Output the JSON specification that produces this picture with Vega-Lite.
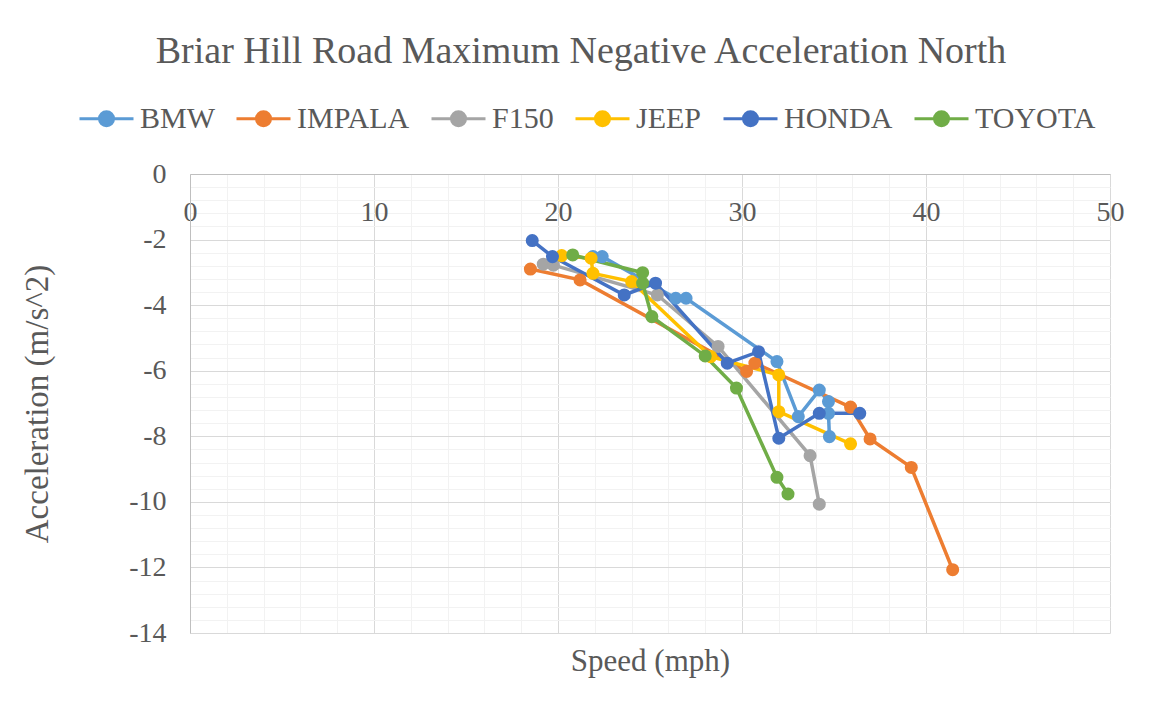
{
  "$schema": "https://vega.github.io/schema/vega-lite/v6.json",
  "width": 920,
  "height": 459,
  "autosize": "none",
  "padding": {"left": 190, "top": 174, "right": 45, "bottom": 70},
  "background": "white",
  "title": {
    "text": "Briar Hill Road Maximum Negative Acceleration North",
    "font": "Liberation Serif",
    "fontSize": 38,
    "fontWeight": "normal",
    "color": "#595959",
    "anchor": "middle",
    "frame": "group",
    "dx": -69,
    "offset": 19
  },
  "config": {
    "view": {"stroke": null},
    "axis": {"labelFont": "Liberation Serif", "titleFont": "Liberation Serif", "labelColor": "#595959", "titleColor": "#595959", "titleFontWeight": "normal"}
  },
  "data": {"values": [
    {"series": "BMW", "i": 1, "speed": 21.9, "accel": -2.52},
    {"series": "BMW", "i": 2, "speed": 22.4, "accel": -2.52},
    {"series": "BMW", "i": 3, "speed": 26.4, "accel": -3.79},
    {"series": "BMW", "i": 4, "speed": 26.96, "accel": -3.79},
    {"series": "BMW", "i": 5, "speed": 31.9, "accel": -5.72},
    {"series": "BMW", "i": 6, "speed": 33.06, "accel": -7.4},
    {"series": "BMW", "i": 7, "speed": 34.2, "accel": -6.59},
    {"series": "BMW", "i": 8, "speed": 34.7, "accel": -6.94},
    {"series": "BMW", "i": 9, "speed": 34.7, "accel": -7.3},
    {"series": "BMW", "i": 10, "speed": 34.75, "accel": -8.01},
    {"series": "IMPALA", "i": 1, "speed": 18.5, "accel": -2.9},
    {"series": "IMPALA", "i": 2, "speed": 21.2, "accel": -3.23},
    {"series": "IMPALA", "i": 3, "speed": 30.25, "accel": -6.02},
    {"series": "IMPALA", "i": 4, "speed": 30.7, "accel": -5.77},
    {"series": "IMPALA", "i": 5, "speed": 35.9, "accel": -7.11},
    {"series": "IMPALA", "i": 6, "speed": 36.96, "accel": -8.08},
    {"series": "IMPALA", "i": 7, "speed": 39.2, "accel": -8.95},
    {"series": "IMPALA", "i": 8, "speed": 41.45, "accel": -12.07},
    {"series": "F150", "i": 1, "speed": 19.2, "accel": -2.75},
    {"series": "F150", "i": 2, "speed": 19.75, "accel": -2.78},
    {"series": "F150", "i": 3, "speed": 25.4, "accel": -3.69},
    {"series": "F150", "i": 4, "speed": 28.7, "accel": -5.26},
    {"series": "F150", "i": 5, "speed": 33.7, "accel": -8.59},
    {"series": "F150", "i": 6, "speed": 34.2, "accel": -10.07},
    {"series": "JEEP", "i": 1, "speed": 20.2, "accel": -2.49},
    {"series": "JEEP", "i": 2, "speed": 21.8, "accel": -2.57},
    {"series": "JEEP", "i": 3, "speed": 21.9, "accel": -3.03},
    {"series": "JEEP", "i": 4, "speed": 24.0, "accel": -3.28},
    {"series": "JEEP", "i": 5, "speed": 28.3, "accel": -5.57},
    {"series": "JEEP", "i": 6, "speed": 32.0, "accel": -6.13},
    {"series": "JEEP", "i": 7, "speed": 32.0, "accel": -7.25},
    {"series": "JEEP", "i": 8, "speed": 35.9, "accel": -8.23},
    {"series": "HONDA", "i": 1, "speed": 18.6, "accel": -2.03},
    {"series": "HONDA", "i": 2, "speed": 19.7, "accel": -2.52},
    {"series": "HONDA", "i": 3, "speed": 23.6, "accel": -3.69},
    {"series": "HONDA", "i": 4, "speed": 25.3, "accel": -3.33},
    {"series": "HONDA", "i": 5, "speed": 29.2, "accel": -5.77},
    {"series": "HONDA", "i": 6, "speed": 30.9, "accel": -5.42},
    {"series": "HONDA", "i": 7, "speed": 32.0, "accel": -8.06},
    {"series": "HONDA", "i": 8, "speed": 34.2, "accel": -7.3},
    {"series": "HONDA", "i": 9, "speed": 36.4, "accel": -7.3},
    {"series": "TOYOTA", "i": 1, "speed": 20.8, "accel": -2.47},
    {"series": "TOYOTA", "i": 2, "speed": 24.6, "accel": -3.01},
    {"series": "TOYOTA", "i": 3, "speed": 24.6, "accel": -3.33},
    {"series": "TOYOTA", "i": 4, "speed": 25.1, "accel": -4.35},
    {"series": "TOYOTA", "i": 5, "speed": 28.0, "accel": -5.55},
    {"series": "TOYOTA", "i": 6, "speed": 29.7, "accel": -6.53},
    {"series": "TOYOTA", "i": 7, "speed": 31.9, "accel": -9.25},
    {"series": "TOYOTA", "i": 8, "speed": 32.5, "accel": -9.76}
  ]},
  "resolve": {"axis": {"x": "independent", "y": "independent"}},
  "layer": [
    {
      "mark": {"type": "point", "opacity": 0},
      "encoding": {
        "x": {"field": "speed", "type": "quantitative", "scale": {"domain": [0, 50], "nice": false, "zero": false},
          "axis": {"orient": "bottom", "values": [0,2,4,6,8,10,12,14,16,18,20,22,24,26,28,30,32,34,36,38,40,42,44,46,48,50], "grid": true, "gridColor": "#F2F2F2", "gridWidth": 1, "labels": false, "ticks": false, "domain": false, "title": null}},
        "y": {"field": "accel", "type": "quantitative", "scale": {"domain": [-14, 0], "nice": false, "zero": false},
          "axis": {"orient": "left", "values": [0,-0.4,-0.8,-1.2,-1.6,-2,-2.4,-2.8,-3.2,-3.6,-4,-4.4,-4.8,-5.2,-5.6,-6,-6.4,-6.8,-7.2,-7.6,-8,-8.4,-8.8,-9.2,-9.6,-10,-10.4,-10.8,-11.2,-11.6,-12,-12.4,-12.8,-13.2,-13.6,-14], "grid": true, "gridColor": "#F2F2F2", "gridWidth": 1, "labels": false, "ticks": false, "domain": false, "title": null}}
      }
    },
    {
      "mark": {"type": "line", "strokeWidth": 3.5},
      "encoding": {
        "x": {"field": "speed", "type": "quantitative",
          "axis": {"orient": "bottom", "offset": -459, "values": [0,10,20,30,40,50], "grid": true, "gridColor": "#D9D9D9", "gridWidth": 1, "ticks": false, "domain": true, "domainColor": "#BFBFBF", "domainWidth": 1, "labelFontSize": 28, "labelPadding": 24, "labelFlush": false, "title": "Speed (mph)", "titleFontSize": 31, "titleY": 496, "titleBaseline": "alphabetic"}},
        "y": {"field": "accel", "type": "quantitative",
          "axis": {"orient": "left", "values": [0,-2,-4,-6,-8,-10,-12,-14], "grid": true, "gridColor": "#D9D9D9", "gridWidth": 1, "ticks": false, "domain": true, "domainColor": "#BFBFBF", "domainWidth": 1, "labelFontSize": 28, "labelPadding": 24, "labelFlush": false, "labelExpr": "(datum.value < 0 ? '-' : '') + abs(datum.value)", "title": "Acceleration (m/s^2)", "titleFontSize": 33, "titlePadding": 74}},
        "color": {"field": "series", "type": "nominal", "scale": {"domain": ["BMW", "IMPALA", "F150", "JEEP", "HONDA", "TOYOTA"], "range": ["#5B9BD5", "#ED7D31", "#A5A5A5", "#FFC000", "#4472C4", "#70AD47"]},
          "legend": {"orient": "none", "legendX": -112, "legendY": -84, "direction": "horizontal", "title": null, "labelFont": "Liberation Serif", "labelFontSize": 30, "labelColor": "#595959", "symbolType": "M-1,0L-0.26,0M0.26,0L1,0M-0.26,0A0.26,0.26 0 1,0 0.26,0A0.26,0.26 0 1,0 -0.26,0Z", "symbolSize": 2916, "symbolStrokeWidth": 3, "symbolOpacity": 1, "columnPadding": 15, "labelOffset": 5}},
        "order": {"field": "i", "type": "quantitative"}
      }
    },
    {
      "mark": {"type": "point", "filled": true, "size": 170, "opacity": 1},
      "encoding": {
        "x": {"field": "speed", "type": "quantitative", "axis": null},
        "y": {"field": "accel", "type": "quantitative", "axis": null},
        "color": {"field": "series", "type": "nominal", "scale": {"domain": ["BMW", "IMPALA", "F150", "JEEP", "HONDA", "TOYOTA"], "range": ["#5B9BD5", "#ED7D31", "#A5A5A5", "#FFC000", "#4472C4", "#70AD47"]},
          "legend": {"orient": "none", "legendX": -112, "legendY": -84, "direction": "horizontal", "title": null, "labelFont": "Liberation Serif", "labelFontSize": 30, "labelColor": "#595959", "symbolType": "M-1,0L-0.26,0M0.26,0L1,0M-0.26,0A0.26,0.26 0 1,0 0.26,0A0.26,0.26 0 1,0 -0.26,0Z", "symbolSize": 2916, "symbolStrokeWidth": 3, "symbolOpacity": 1, "columnPadding": 15, "labelOffset": 5}}
      }
    }
  ]
}
